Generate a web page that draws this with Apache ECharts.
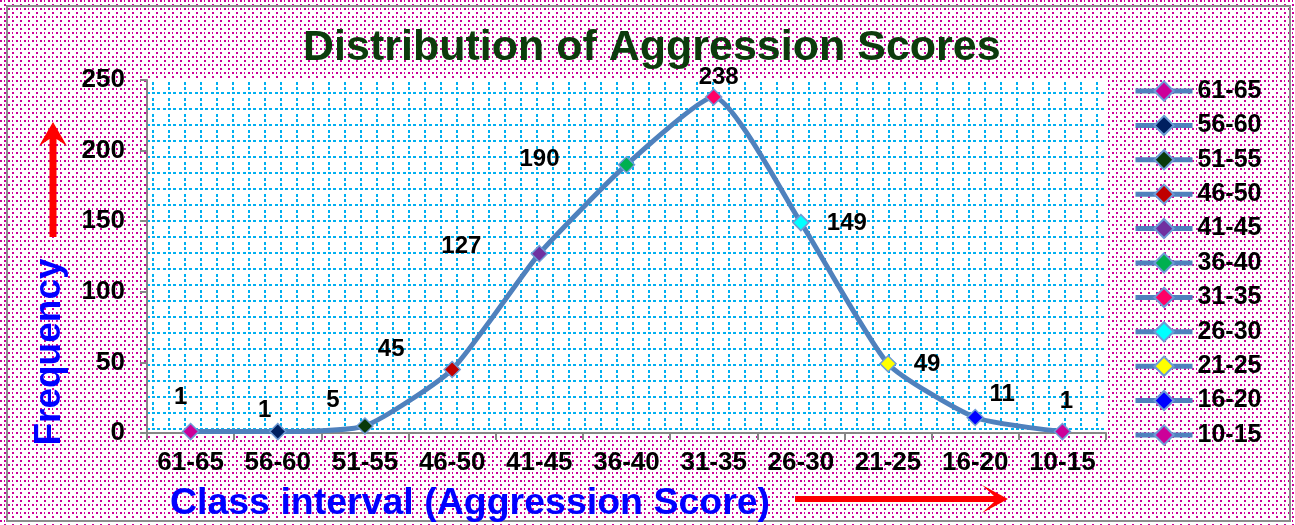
<!DOCTYPE html>
<html><head><meta charset="utf-8">
<script src="https://cdn.jsdelivr.net/npm/echarts/dist/echarts.min.js"></script>
<style>html,body{margin:0;padding:0;background:#fff}#c{width:1295px;height:525px}</style>
</head><body><div id="c"></div>
<script>
// ---- data ----
const categories = ['61-65','56-60','51-55','46-50','41-45','36-40','31-35','26-30','21-25','16-20','10-15'];
const frequency = [1, 1, 5, 45, 127, 190, 238, 149, 49, 11, 1];
const yTickValues = [0, 50, 100, 150, 200, 250];

// ---- styles ----
const pointColors = ['#cc0099','#002060','#0a3a0a','#c00000','#7030a0','#00b050','#ff0066','#00ffff','#ffff00','#0000ff','#cc0099'];
const labelOffsets = [[-10,-34],[-13,-21],[-32,-26],[-61,-20],[-78,-7],[-87,-5],[5,-20],[46,1],[39,1],[27,-23],[4,-30]];
const FONT = 'Liberation Sans, Arial, sans-serif';
const LINE = '#4f81bd';

function makePattern(w, h, color, draw) {
  const c = document.createElement('canvas');
  c.width = w; c.height = h;
  const ctx = c.getContext('2d');
  ctx.fillStyle = '#ffffff'; ctx.fillRect(0, 0, w, h);
  ctx.fillStyle = color;
  draw(ctx);
  return { image: c, repeat: 'repeat' };
}
const outerPattern = makePattern(8, 8, '#cc0099', ctx => {
  ctx.fillRect(0, 0, 2, 2);
  ctx.fillRect(4, 4, 2, 2);
  ctx.fillRect(4, 0, 1, 2);
});
const gridPattern = makePattern(16, 16, '#00b0f0', ctx => {
  [3, 8, 13].forEach(x => ctx.fillRect(x, 12, 3, 2));
  [2, 7].forEach(y => ctx.fillRect(8, y, 2, 3));
});

const chart = echarts.init(document.getElementById('c'), null, { renderer: 'canvas' });

const mainData = frequency.map((v, i) => ({
  value: v,
  itemStyle: { color: pointColors[i] },
  label: { offset: labelOffsets[i] }
}));

const legendSeries = categories.map((name, i) => ({
  type: 'line',
  name: name,
  data: [],
  symbol: 'diamond',
  lineStyle: { color: LINE, width: 5 },
  itemStyle: { color: pointColors[i], borderColor: '#6d9ad6', borderWidth: 1.5 }
}));

chart.setOption({
  animation: false,
  backgroundColor: outerPattern,
  title: {
    text: 'Distribution of Aggression Scores',
    left: 298, top: 22,
    textStyle: { color: '#0c3c0c', fontSize: 43, fontWeight: 'bold', fontFamily: FONT }
  },
  legend: {
    data: categories,
    orient: 'vertical',
    left: 1133, top: 78,
    padding: 0,
    itemWidth: 57, itemHeight: 24, itemGap: 8.4,
    lineStyle: { color: LINE, width: 5 },
    textStyle: { color: '#000', fontSize: 25, fontWeight: 'bold', fontFamily: FONT, lineHeight: 26 },
    selectedMode: false
  },
  grid: {
    left: 147, right: 189, top: 80, bottom: 92,
    show: true, backgroundColor: gridPattern, borderWidth: 0,
    containLabel: false, outerBoundsMode: 'none'
  },
  xAxis: {
    type: 'category',
    data: categories,
    boundaryGap: true,
    axisLine: { lineStyle: { color: '#868686', width: 2 } },
    axisTick: { show: true, interval: 0, length: 7, lineStyle: { color: '#868686', width: 2 } },
    axisLabel: { interval: 0, margin: 17, color: '#000', fontSize: 26, fontWeight: 'bold', fontFamily: FONT },
    splitLine: { show: false }
  },
  yAxis: {
    type: 'value',
    min: yTickValues[0], max: yTickValues[yTickValues.length - 1], interval: yTickValues[1] - yTickValues[0],
    axisLine: { show: true, lineStyle: { color: '#868686', width: 2 } },
    axisTick: { show: true, length: 7, lineStyle: { color: '#868686', width: 2 } },
    axisLabel: { margin: 22, color: '#000', fontSize: 26, fontWeight: 'bold', fontFamily: FONT },
    splitLine: { show: false }
  },
  series: [{
    type: 'line',
    name: 'Frequency',
    data: mainData,
    smooth: 0.18,
    symbol: 'diamond',
    symbolSize: 16,
    lineStyle: { color: LINE, width: 5 },
    itemStyle: { borderColor: '#6d9ad6', borderWidth: 1.5 },
    label: { show: true, position: 'inside', color: '#000', fontSize: 24, fontWeight: 'bold', fontFamily: FONT },
    emphasis: { disabled: true },
    z: 3
  }].concat(legendSeries),
  graphic: [
    { type: 'rect', shape: { x: 7, y: 6, width: 1283, height: 515 }, style: { fill: null, stroke: '#8c8c8c', lineWidth: 2 }, silent: true },
    { type: 'text', x: 50, y: 352, rotation: Math.PI / 2,
      style: { text: 'Frequency', align: 'center', verticalAlign: 'middle', fill: '#0000ff', font: 'bold 37px ' + FONT } },
    { type: 'text', x: 470, y: 504,
      style: { text: 'Class interval (Aggression Score)', align: 'center', verticalAlign: 'middle', fill: '#0000ff', font: 'bold 37.5px ' + FONT } },
    { type: 'polygon', shape: { points: [[53,122],[67,146],[56.5,139],[56.5,237],[49.5,237],[49.5,139],[39,146]] }, style: { fill: '#ff0000' } },
    { type: 'polygon', shape: { points: [[795,496],[994,496],[982,485],[1008,499],[982,513],[994,502],[795,502]] }, style: { fill: '#ff0000' } }
  ]
});
</script>
</body></html>
